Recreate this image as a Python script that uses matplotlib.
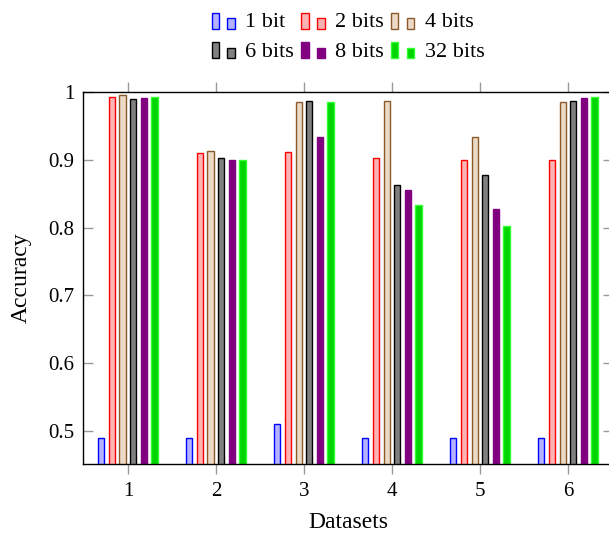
import numpy as np
import matplotlib
matplotlib.use("Agg")
import matplotlib.pyplot as plt
from matplotlib.patches import Rectangle
from matplotlib.legend_handler import HandlerBase

# Data
datasets = [1, 2, 3, 4, 5, 6]
labels = ["1 bit", "2 bits", "4 bits", "6 bits", "8 bits", "32 bits"]
acc_1bit = [0.49, 0.49, 0.51, 0.49, 0.49, 0.49]
acc_2bits = [0.992, 0.910, 0.912, 0.903, 0.900, 0.900]
acc_4bits = [0.995, 0.913, 0.985, 0.987, 0.934, 0.985]
acc_6bits = [0.990, 0.902, 0.987, 0.863, 0.878, 0.987]
acc_8bits = [0.991, 0.900, 0.934, 0.855, 0.828, 0.991]
acc_32bits = [0.992, 0.900, 0.985, 0.833, 0.803, 0.992]

series = [acc_1bit, acc_2bits, acc_4bits, acc_6bits, acc_8bits, acc_32bits]
fills = ['#b3b3ff', '#ffb3b3', '#ecd9c6', '#808080', '#800080', '#00d500']
edges = ['#0000ff', '#ff0000', '#8b5a2b', '#000000', '#800080', '#33ff33']

plt.rcParams.update({'font.family': ['Liberation Serif', 'DejaVu Serif'],
                     'font.size': 16})


class TwoBarHandler(HandlerBase):
    # pgfplots-style ybar legend image: a tall and a short bar
    def create_artists(self, legend, orig_handle, xdescent, ydescent,
                       width, height, fontsize, trans):
        fc = orig_handle.get_facecolor()
        ec = orig_handle.get_edgecolor()
        y0 = -ydescent - 1
        r1 = Rectangle((-xdescent, y0), 5.2, 11.5,
                       facecolor=fc, edgecolor=ec, lw=1, transform=trans)
        r2 = Rectangle((11.5 - xdescent, y0), 5.2, 7.5,
                       facecolor=fc, edgecolor=ec, lw=1, transform=trans)
        return [r1, r2]


fig = plt.figure(figsize=(6.09, 5.37), dpi=100)
ax = fig.add_axes([0.1363, 0.1359, 0.870, 0.6928])

x = np.array(datasets, dtype=float)
step = 0.121
w = 0.07
handles = []
for i, (vals, fc, ec, lab) in enumerate(zip(series, fills, edges, labels)):
    bars = ax.bar(x + (i - 2.5) * step, vals, width=w, color=fc,
                  edgecolor=ec, linewidth=1, label=lab, zorder=2)
    handles.append(bars[0])

ax.set_xlim(0.49, 6.51)
ax.set_ylim(0.4515, 1.0)
ax.set_xticks(datasets)
ax.set_yticks([0.5, 0.6, 0.7, 0.8, 0.9, 1.0])
ax.set_yticklabels(['0.5', '0.6', '0.7', '0.8', '0.9', '1'])
ax.tick_params(axis='x', direction='out', top=True, bottom=True,
               length=7, color='#999999', width=1, pad=6, labelsize=15)
ax.tick_params(axis='y', direction='in', left=True, right=True,
               length=7, color='#999999', width=1, pad=6, labelsize=15)
for s in ax.spines.values():
    s.set_linewidth(1)
ax.set_xlabel('Datasets', labelpad=8, fontsize=17)
ax.set_ylabel('Accuracy', labelpad=12, fontsize=17)

# row-major order in a 3-column legend
order = [0, 3, 1, 4, 2, 5]
ax.legend([handles[k] for k in order], [labels[k] for k in order],
          ncol=3, loc='lower center', bbox_to_anchor=(0.5, 1.045),
          frameon=False, handler_map={h: TwoBarHandler() for h in handles},
          handlelength=1.05, handletextpad=0.45, columnspacing=0.35,
          labelspacing=0.4, fontsize=16, borderpad=0.1)

fig.savefig('out.png', dpi=100)
